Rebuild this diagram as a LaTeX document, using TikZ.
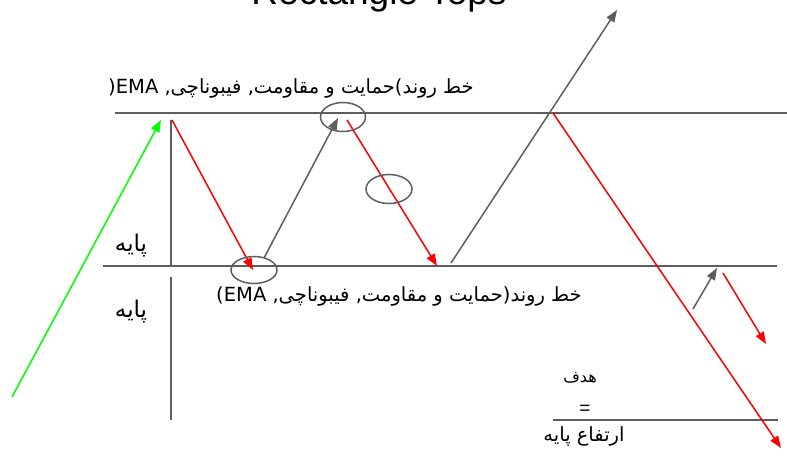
\documentclass[tikz,border=0pt]{standalone}
\usepackage{fontspec}
\setmainfont{Liberation Sans}
\newfontfamily\farsi[Script=Arabic]{DejaVu Sans}
\TeXXeTstate=1
\usetikzlibrary{arrows.meta,shapes.geometric}
\definecolor{chartgray}{HTML}{5E5E5E}
\tikzset{
  level/.style={draw=chartgray,line width=2pt},
  upmove/.style={draw=chartgray,line width=1.5pt,-{Triangle[length=12pt,width=9pt]}},
  downmove/.style={draw=red,line width=1.5pt,-{Triangle[length=12pt,width=9pt]}},
  ring/.style={draw=chartgray,line width=1.5pt,ellipse,inner sep=0pt,
               minimum width=45pt,minimum height=29pt},
  fatext/.style={font=\farsi\fontsize{19.5}{22}\selectfont,inner sep=0pt},
  titletext/.style={font=\fontsize{37}{40}\selectfont,anchor=base,inner sep=0pt}
}

\begin{document}
\begin{tikzpicture}[x=1pt,y=-1pt]
  \useasboundingbox (0,0) rectangle (787,457);
  \node[titletext] (title) at (379,5) {Rectangle Tops};
  % resistance, support and target levels
  \coordinate (resL) at (115,113);
  \coordinate (resR) at (787,113);
  \coordinate (supL) at (103,266);
  \coordinate (supR) at (777,266);
  \coordinate (tgtL) at (553,420);
  \coordinate (tgtR) at (778,420);
  \draw[level] (resL) -- (resR);
  \draw[level] (supL) -- (supR);
  \draw[level] (tgtL) -- (tgtR);
  % base height markers
  \coordinate (baseA) at (171,120);
  \coordinate (baseB) at (171,266);
  \coordinate (baseC) at (171,277);
  \coordinate (baseD) at (171,420);
  \draw[level,line width=1.5pt] (baseA) -- (baseB);
  \draw[level,line width=1.5pt] (baseC) -- (baseD);
  % price swings
  \coordinate (g0) at (12,397);
  \coordinate (g1) at (161,120);
  \draw[draw=green,line width=1.5pt,-{Triangle[length=12pt,width=9pt]}] (g0) -- (g1);
  \coordinate (p0) at (172,120);
  \coordinate (p1) at (253,270);
  \coordinate (p2) at (264,258);
  \coordinate (p3) at (338,118);
  \coordinate (p4) at (347,120);
  \coordinate (p5) at (437,266);
  \coordinate (p6) at (451,263);
  \coordinate (p7) at (617,10);
  \draw[downmove] (p0) -- (p1);
  \draw[upmove] (p2) -- (p3);
  \draw[downmove] (p4) -- (p5);
  \draw[upmove] (p6) -- (p7);
  \coordinate (q0) at (553,113);
  \coordinate (q1) at (781,448);
  \draw[downmove] (q0) -- (q1);
  \coordinate (r0) at (693,309);
  \coordinate (r1) at (717,268);
  \coordinate (r2) at (723,273);
  \coordinate (r3) at (766,344);
  \draw[upmove] (r0) -- (r1);
  \draw[downmove] (r2) -- (r3);
  % touch points
  \node[ring] (ringtop) at (343,117) {};
  \node[ring,minimum width=46pt] (ringmid) at (389,189) {};
  \node[ring,minimum width=46pt,minimum height=27pt] (ringbot) at (254,270) {};
  % labels
  \node[fatext] (rescap) at (291,88)
    {\beginR خط روند)حمایت و مقاومت, فیبوناچی, \beginL )EMA\endL\endR};
  \node[fatext] (supcap) at (399,296)
    {\beginR خط روند(حمایت و مقاومت, فیبوناچی, \beginL (EMA\endL\endR};
  \node[fatext,font=\farsi\fontsize{23}{25}\selectfont] (baseup) at (131,246) {پایه};
  \node[fatext,font=\farsi\fontsize{23}{25}\selectfont] (basedown) at (131,312) {پایه};
  \node[fatext,font=\farsi\fontsize{16}{18}\selectfont] (target) at (580,378) {هدف};
  \node[font=\fontsize{19}{21}\selectfont,inner sep=0pt] (equals) at (585,410) {=};
  \node[fatext] (height) at (584,436) {\beginR ارتفاع پایه\endR};
\end{tikzpicture}
\end{document}
